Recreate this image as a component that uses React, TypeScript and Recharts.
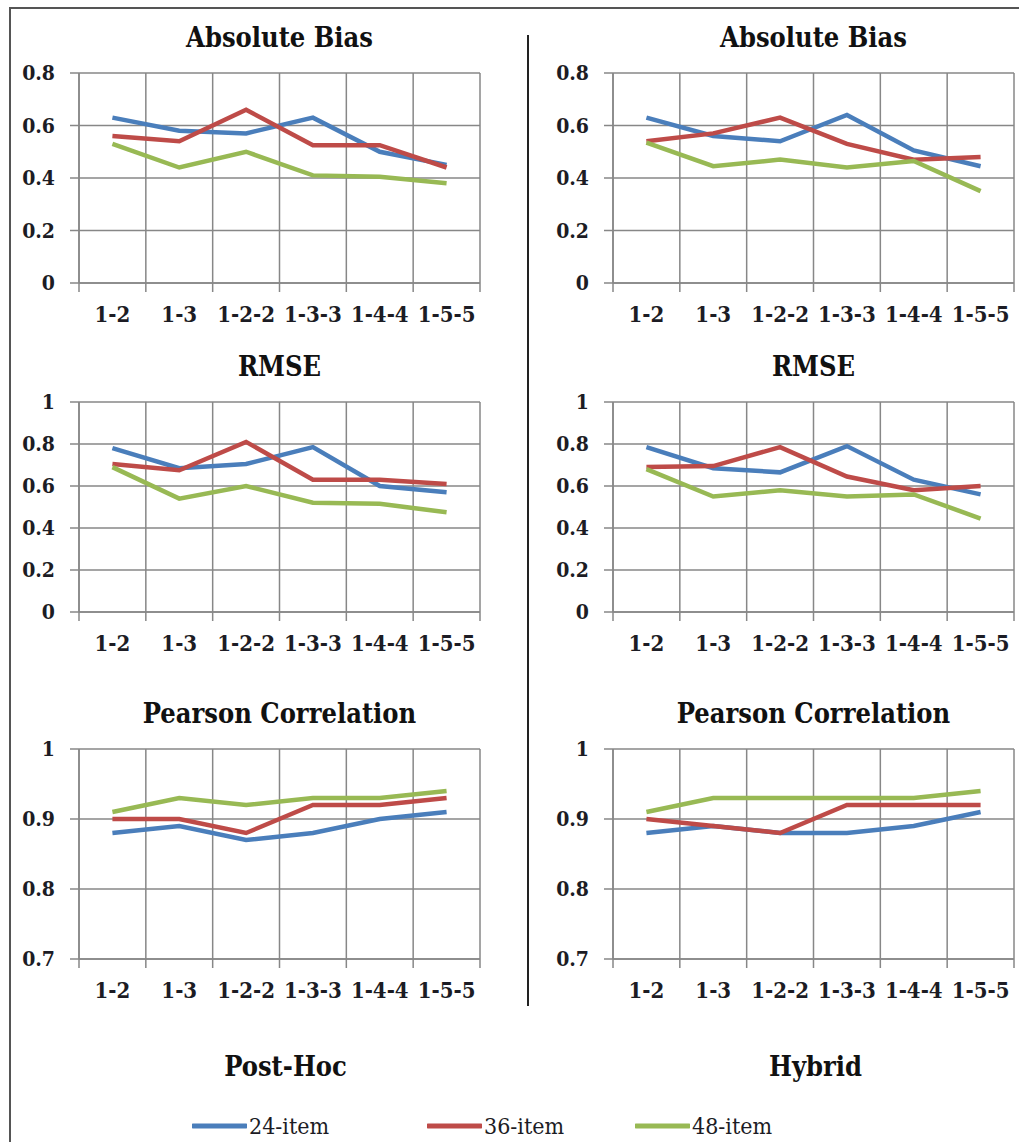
import React from 'react';
import { LineChart, Line, XAxis, YAxis, CartesianGrid } from 'recharts';

const categories = ['1-2', '1-3', '1-2-2', '1-3-3', '1-4-4', '1-5-5'];
const seriesNames = ['24-item', '36-item', '48-item'];
const seriesColors = ['#4a7ebb', '#be4b48', '#98b954'];
const groupNames = ['Post-Hoc', 'Hybrid'];

// Post-Hoc column
const postHocBias24 = [0.63, 0.58, 0.57, 0.63, 0.5, 0.45];
const postHocBias36 = [0.56, 0.54, 0.66, 0.525, 0.525, 0.44];
const postHocBias48 = [0.53, 0.44, 0.5, 0.41, 0.405, 0.38];

const postHocRmse24 = [0.78, 0.685, 0.705, 0.785, 0.6, 0.57];
const postHocRmse36 = [0.705, 0.675, 0.81, 0.63, 0.63, 0.61];
const postHocRmse48 = [0.69, 0.54, 0.6, 0.52, 0.515, 0.475];

const postHocCorr24 = [0.88, 0.89, 0.87, 0.88, 0.9, 0.91];
const postHocCorr36 = [0.9, 0.9, 0.88, 0.92, 0.92, 0.93];
const postHocCorr48 = [0.91, 0.93, 0.92, 0.93, 0.93, 0.94];

// Hybrid column
const hybridBias24 = [0.63, 0.56, 0.54, 0.64, 0.505, 0.445];
const hybridBias36 = [0.54, 0.57, 0.63, 0.53, 0.47, 0.48];
const hybridBias48 = [0.535, 0.445, 0.47, 0.44, 0.465, 0.35];

const hybridRmse24 = [0.785, 0.685, 0.665, 0.79, 0.63, 0.56];
const hybridRmse36 = [0.69, 0.695, 0.785, 0.645, 0.58, 0.6];
const hybridRmse48 = [0.68, 0.55, 0.58, 0.55, 0.56, 0.445];

const hybridCorr24 = [0.88, 0.89, 0.88, 0.88, 0.89, 0.91];
const hybridCorr36 = [0.9, 0.89, 0.88, 0.92, 0.92, 0.92];
const hybridCorr48 = [0.91, 0.93, 0.93, 0.93, 0.93, 0.94];

const biasTicks = [0, 0.2, 0.4, 0.6, 0.8];
const rmseTicks = [0, 0.2, 0.4, 0.6, 0.8, 1];
const corrTicks = [0.7, 0.8, 0.9, 1];

const GRID = '#878787';
const INK = '#1c1c24';
const SERIF = "'DejaVu Serif Condensed', 'DejaVu Serif'";

const CHART_W = 500;
const PLOT_H = 210;
const TOP_PAD = 20;

interface PanelProps {
  title: string;
  series: number[][];
  yTicks: number[];
  left: number;
  plotTop: number;
}

function Panel({ title, series, yTicks, left, plotTop }: PanelProps) {
  const data = categories.map((cat, i) => ({
    pos: i + 0.5,
    cat,
    s0: series[0][i],
    s1: series[1][i],
    s2: series[2][i],
  }));
  const gridTicks = [0, ...categories.map((_, i) => i + 1)];
  const labelTicks = categories.map((_, i) => i + 0.5);
  const height = TOP_PAD + PLOT_H + 9 + 40;
  const tickStyle = { fill: INK, fontWeight: 'bold', fontFamily: SERIF, fontStretch: 'condensed' };

  return (
    <>
      <div
        style={{
          position: 'absolute',
          left: left + 79,
          width: 401,
          top: plotTop - 50,
          textAlign: 'center',
          fontFamily: SERIF,
          fontStretch: 'condensed',
          fontWeight: 'bold',
          fontSize: 27,
          lineHeight: '30px',
          color: '#111',
        }}
      >
        {title}
      </div>
      <div style={{ position: 'absolute', left, top: plotTop - TOP_PAD }}>
        <LineChart
          width={CHART_W}
          height={height}
          data={data}
          margin={{ top: TOP_PAD, right: 20, left: 19, bottom: 0 }}
        >
          <CartesianGrid stroke={GRID} strokeWidth={1.5} />
          <XAxis
            dataKey="pos"
            type="number"
            domain={[0, categories.length]}
            ticks={gridTicks}
            interval={0}
            height={9}
            tickSize={9}
            stroke={GRID}
            strokeWidth={1.5}
            tickFormatter={() => ''}
          />
          <XAxis
            xAxisId="lbl"
            dataKey="pos"
            type="number"
            domain={[0, categories.length]}
            ticks={labelTicks}
            interval={0}
            height={40}
            tickSize={0}
            tickMargin={14}
            axisLine={false}
            tickLine={false}
            tickFormatter={(v: number) => categories[Math.floor(v)]}
            tick={{ ...tickStyle, fontSize: 22 }}
          />
          <YAxis
            type="number"
            domain={[yTicks[0], yTicks[yTicks.length - 1]]}
            ticks={yTicks}
            interval={0}
            width={60}
            tickSize={9}
            tickMargin={15}
            stroke={GRID}
            strokeWidth={1.5}
            tickFormatter={(v: number) => String(v)}
            tick={{ ...tickStyle, fontSize: 21 }}
          />
          {series.map((_, k) => (
            <Line
              key={k}
              type="linear"
              dataKey={`s${k}`}
              name={seriesNames[k]}
              stroke={seriesColors[k]}
              strokeWidth={4.5}
              dot={false}
              isAnimationActive={false}
            />
          ))}
        </LineChart>
      </div>
    </>
  );
}

const legendLefts = [192, 427, 635];

export default function App() {
  const rows = [73, 402, 749];
  return (
    <div
      style={{
        position: 'absolute',
        left: 0,
        top: 0,
        width: 1019,
        height: 1142,
        overflow: 'hidden',
        background: '#fff',
      }}
    >
      <div
        style={{
          position: 'absolute',
          left: 9,
          top: 7,
          width: 1100,
          height: 1200,
          borderTop: '2px solid #555',
          borderLeft: '2px solid #555',
        }}
      />
      <div
        style={{
          position: 'absolute',
          left: 527,
          top: 35,
          width: 2,
          height: 971,
          background: '#222',
        }}
      />

      <Panel title="Absolute Bias" series={[postHocBias24, postHocBias36, postHocBias48]} yTicks={biasTicks} left={0} plotTop={rows[0]} />
      <Panel title="RMSE" series={[postHocRmse24, postHocRmse36, postHocRmse48]} yTicks={rmseTicks} left={0} plotTop={rows[1]} />
      <Panel title="Pearson Correlation" series={[postHocCorr24, postHocCorr36, postHocCorr48]} yTicks={corrTicks} left={0} plotTop={rows[2]} />

      <Panel title="Absolute Bias" series={[hybridBias24, hybridBias36, hybridBias48]} yTicks={biasTicks} left={534} plotTop={rows[0]} />
      <Panel title="RMSE" series={[hybridRmse24, hybridRmse36, hybridRmse48]} yTicks={rmseTicks} left={534} plotTop={rows[1]} />
      <Panel title="Pearson Correlation" series={[hybridCorr24, hybridCorr36, hybridCorr48]} yTicks={corrTicks} left={534} plotTop={rows[2]} />

      {groupNames.map((label, i) => (
        <div
          key={label}
          style={{
            position: 'absolute',
            left: i === 0 ? 85 : 615,
            width: 401,
            top: 1052,
            textAlign: 'center',
            fontFamily: SERIF,
            fontStretch: 'condensed',
            fontWeight: 'bold',
            fontSize: 27,
            lineHeight: '30px',
            color: '#111',
          }}
        >
          {label}
        </div>
      ))}

      {seriesNames.map((name, k) => (
        <div
          key={name}
          style={{
            position: 'absolute',
            left: legendLefts[k],
            top: 1113,
            height: 26,
            display: 'flex',
            alignItems: 'center',
            fontFamily: SERIF,
            fontStretch: 'condensed',
            fontSize: 23,
            lineHeight: '26px',
            color: INK,
          }}
        >
          <svg width={55} height={8} style={{ marginRight: 2 }}>
            <line x1={1} y1={4} x2={54} y2={4} stroke={seriesColors[k]} strokeWidth={5} strokeLinecap="round" />
          </svg>
          <span>{name}</span>
        </div>
      ))}
    </div>
  );
}
